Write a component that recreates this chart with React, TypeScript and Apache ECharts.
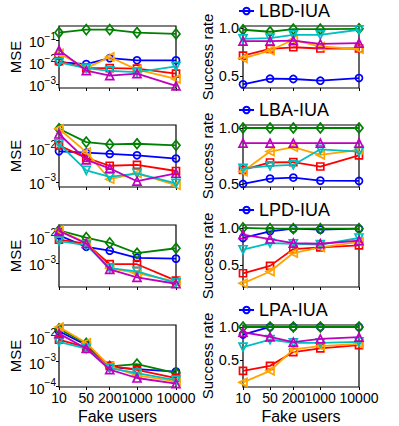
import React, { useEffect, useRef } from "react";
import * as echarts from "echarts";

const FONT = "Liberation Sans, Arial, sans-serif";

const xValues = [10, 50, 200, 1000, 10000];
const panelTitles = ["LBD-IUA", "LBA-IUA", "LPD-IUA", "LPA-IUA"];
const seriesTags = ["blue", "green", "red", "orange", "cyan", "magenta"];

// MSE per panel, series order: blue, green, red, orange, cyan, magenta
const lbdMse = [
  [0.010, 0.0081, 0.015, 0.012, 0.012],
  [0.22, 0.30, 0.30, 0.22, 0.19],
  [0.011, 0.0053, 0.0053, 0.005, 0.003],
  [0.025, 0.0053, 0.017, 0.0045, 0.0017],
  [0.0097, 0.0053, 0.004, 0.0035, 0.0063],
  [0.035, 0.0041, 0.0024, 0.003, 0.00083],
];
const lbaMse = [
  [0.0080, 0.0073, 0.0067, 0.0061, 0.0049],
  [0.037, 0.015, 0.0128, 0.0134, 0.012],
  [0.012, 0.0051, 0.0030, 0.0032, 0.0021],
  [0.037, 0.0076, 0.0012, 0.0018, 0.0008],
  [0.0134, 0.0022, 0.0014, 0.0018, 0.0009],
  [0.026, 0.0045, 0.0025, 0.00105, 0.0018],
];
const lpdMse = [
  [0.0115, 0.0042, 0.003, 0.0016, 0.0015],
  [0.0178, 0.0094, 0.0059, 0.0024, 0.0037],
  [0.0079, 0.0056, 0.00092, 0.00092, 0.00022],
  [0.0178, 0.0059, 0.00065, 0.00042, 0.0002],
  [0.0069, 0.0049, 0.00065, 0.00049, 0.00018],
  [0.0168, 0.0056, 0.00059, 0.00029, 0.000167],
];
const lpaMse = [
  [0.017, 0.0047, 0.0006, 0.0005, 0.0004],
  [0.021, 0.0055, 0.00065, 0.0008, 0.00035],
  [0.0078, 0.0038, 0.00068, 0.00047, 0.00022],
  [0.025, 0.0058, 0.00065, 0.00028, 0.00016],
  [0.0063, 0.0034, 0.00055, 0.00035, 0.00018],
  [0.0136, 0.0034, 0.00048, 0.00022, 0.00013],
];

// Success rate per panel
const lbdSr = [
  [0.413, 0.472, 0.469, 0.451, 0.479],
  [0.983, 0.962, 0.99, 0.99, 0.993],
  [0.713, 0.783, 0.80, 0.787, 0.787],
  [0.685, 0.766, 0.878, 0.808, 0.78],
  [0.888, 0.895, 0.93, 0.93, 0.983],
  [0.864, 0.864, 0.87, 0.836, 0.843],
];
const lbaSr = [
  [0.5, 0.548, 0.557, 0.53, 0.527],
  [1, 1, 1, 1, 1],
  [0.626, 0.692, 0.695, 0.656, 0.755],
  [0.611, 0.79, 0.829, 0.76, 0.805],
  [0.64, 0.662, 0.67, 0.81, 0.79],
  [0.865, 0.865, 0.865, 0.865, 0.865],
];
const lpdSr = [
  [0.864, 0.955, 0.99, 0.977, 0.99],
  [1.0, 0.99, 0.99, 0.99, 0.99],
  [0.386, 0.486, 0.714, 0.736, 0.764],
  [0.25, 0.41, 0.66, 0.736, 0.81],
  [0.705, 0.795, 0.786, 0.773, 0.864],
  [0.91, 0.85, 0.795, 0.786, 0.827],
];
const lpaSr = [
  [0.885, 1.0, 1.0, 1.0, 1.0],
  [1, 1, 1, 1, 1],
  [0.335, 0.41, 0.62, 0.675, 0.725],
  [0.16, 0.335, 0.66, 0.71, 0.745],
  [0.695, 0.81, 0.76, 0.76, 0.775],
  [0.92, 0.85, 0.77, 0.82, 0.845],
];

const mseTicks = [
  [0.001, 0.01, 0.1],
  [0.001, 0.01],
  [0.001, 0.01],
  [0.0001, 0.001, 0.01],
];
const srTicks = [0.5, 1.0];

const mseAll = [lbdMse, lbaMse, lpdMse, lpaMse];
const srAll = [lbdSr, lbaSr, lpdSr, lpaSr];

// layout (exponent ranges and linear ranges of the axes)
const mseExpRange = [
  [-3.18, -0.36],
  [-3.15, -1.32],
  [-3.9, -1.55],
  [-4.02, -1.52],
];
const srRange = [
  [0.375, 1.022],
  [0.473, 1.027],
  [0.2, 1.04],
  [0.09, 1.03],
];
const rowTops = [26, 125, 225, 325];
const rowH = 62;

const colors = ["#0000ff", "#008000", "#ff0000", "#ffa500", "#00bfbf", "#bf00bf"];
const symbols = ["circle", "diamond", "rect", "triangle", "triangle", "triangle"];
const rotations = [0, 0, 0, 90, 180, 0];
const sizes: any[] = [7, [8, 10], 7, 8, 8, 8];

export default function App() {
  const ref = useRef<HTMLDivElement>(null);
  useEffect(() => {
    if (!ref.current) return;
    const chart = echarts.init(ref.current, null, { renderer: "svg" });
    const grid: any[] = [];
    const xAxis: any[] = [];
    const yAxis: any[] = [];
    const series: any[] = [];
    const legend: any[] = [];

    for (let r = 0; r < 4; r++) {
      for (let c = 0; c < 2; c++) {
        const gi = r * 2 + c;
        grid.push({
          left: c === 0 ? 59 : 243,
          width: c === 0 ? 117 : 116,
          top: rowTops[r],
          height: rowH,
          show: true,
          borderColor: "#000",
          borderWidth: 1.2,
        });
        const last = r === 3;
        xAxis.push({
          type: "log",
          logBase: 10,
          gridIndex: gi,
          min: 10,
          max: 10000,
          name: last ? "Fake users" : "",
          nameLocation: "middle",
          nameGap: 21,
          nameTextStyle: { fontSize: 16, fontFamily: FONT, color: "#000" },
          axisLine: { show: false },
          splitLine: { show: false },
          minorTick: { show: false },
          axisTick: { show: true, length: 3, customValues: xValues, lineStyle: { color: "#000" } },
          axisLabel: {
            show: last,
            customValues: xValues,
            margin: 4,
            fontSize: 14,
            fontFamily: FONT,
            color: "#000",
            formatter: (v: number) => String(Math.round(v)),
          },
        });
        if (c === 0) {
          yAxis.push({
            type: "log",
            logBase: 10,
            gridIndex: gi,
            min: Math.pow(10, mseExpRange[r][0]),
            max: Math.pow(10, mseExpRange[r][1]),
            name: "MSE",
            nameLocation: "middle",
            nameGap: 36,
            nameTextStyle: { fontSize: 15, fontFamily: FONT, color: "#000" },
            axisLine: { show: false },
            splitLine: { show: false },
            minorTick: { show: false },
            axisTick: { show: true, length: 3, customValues: mseTicks[r], lineStyle: { color: "#000" } },
            axisLabel: {
              customValues: mseTicks[r],
              margin: 3,
              formatter: (v: number) => {
                const e = Math.round(Math.log10(v));
                return `{b|10}{s|\u2212${-e}}`;
              },
              rich: {
                b: { fontSize: 14, fontFamily: FONT, color: "#000", padding: [4, 0, 0, 0] },
                s: { fontSize: 10, fontFamily: FONT, color: "#000", verticalAlign: "top" },
              },
            },
          });
        } else {
          yAxis.push({
            type: "value",
            gridIndex: gi,
            min: srRange[r][0],
            max: srRange[r][1],
            name: "Success rate",
            nameLocation: "middle",
            nameGap: 28,
            nameTextStyle: { fontSize: 15, fontFamily: FONT, color: "#000" },
            axisLine: { show: false },
            splitLine: { show: false },
            axisTick: { show: true, length: 3, customValues: srTicks, lineStyle: { color: "#000" } },
            axisLabel: {
              customValues: srTicks,
              margin: 4,
              fontSize: 14.5,
              fontFamily: FONT,
              color: "#000",
              formatter: (v: number) => v.toFixed(1),
            },
          });
        }
        const dataSet = c === 0 ? mseAll[r] : srAll[r];
        for (let s = 0; s < 6; s++) {
          const name = c === 1 && s === 0 ? panelTitles[r] : `${panelTitles[r]}-${c === 0 ? "mse" : "sr"}-${seriesTags[s]}`;
          series.push({
            type: "line",
            name,
            xAxisIndex: gi,
            yAxisIndex: gi,
            data: dataSet[s].map((v, i) => [xValues[i], v]),
            color: colors[s],
            symbol: symbols[s],
            symbolRotate: rotations[s],
            symbolSize: sizes[s],
            showAllSymbol: true,
            lineStyle: { color: colors[s], width: 1.8 },
            itemStyle: { color: "rgba(255,255,255,0)", borderColor: colors[s], borderWidth: 1.7 },
            emphasis: { disabled: true },
            z: 2 + s,
          });
        }
      }
      legend.push({
        data: [panelTitles[r]],
        left: 238,
        top: rowTops[r] - 24,
        padding: 0,
        itemWidth: 15,
        itemHeight: 8,
        selectedMode: false,
        textStyle: { fontSize: 18, fontFamily: FONT, color: "#000" },
      });
    }

    chart.setOption({
      animation: false,
      backgroundColor: "#fff",
      grid,
      xAxis,
      yAxis,
      series,
      legend,
    });
    return () => chart.dispose();
  }, []);
  return <div ref={ref} style={{ position: "fixed", left: 0, top: 0, width: 399, height: 426 }} />;
}
